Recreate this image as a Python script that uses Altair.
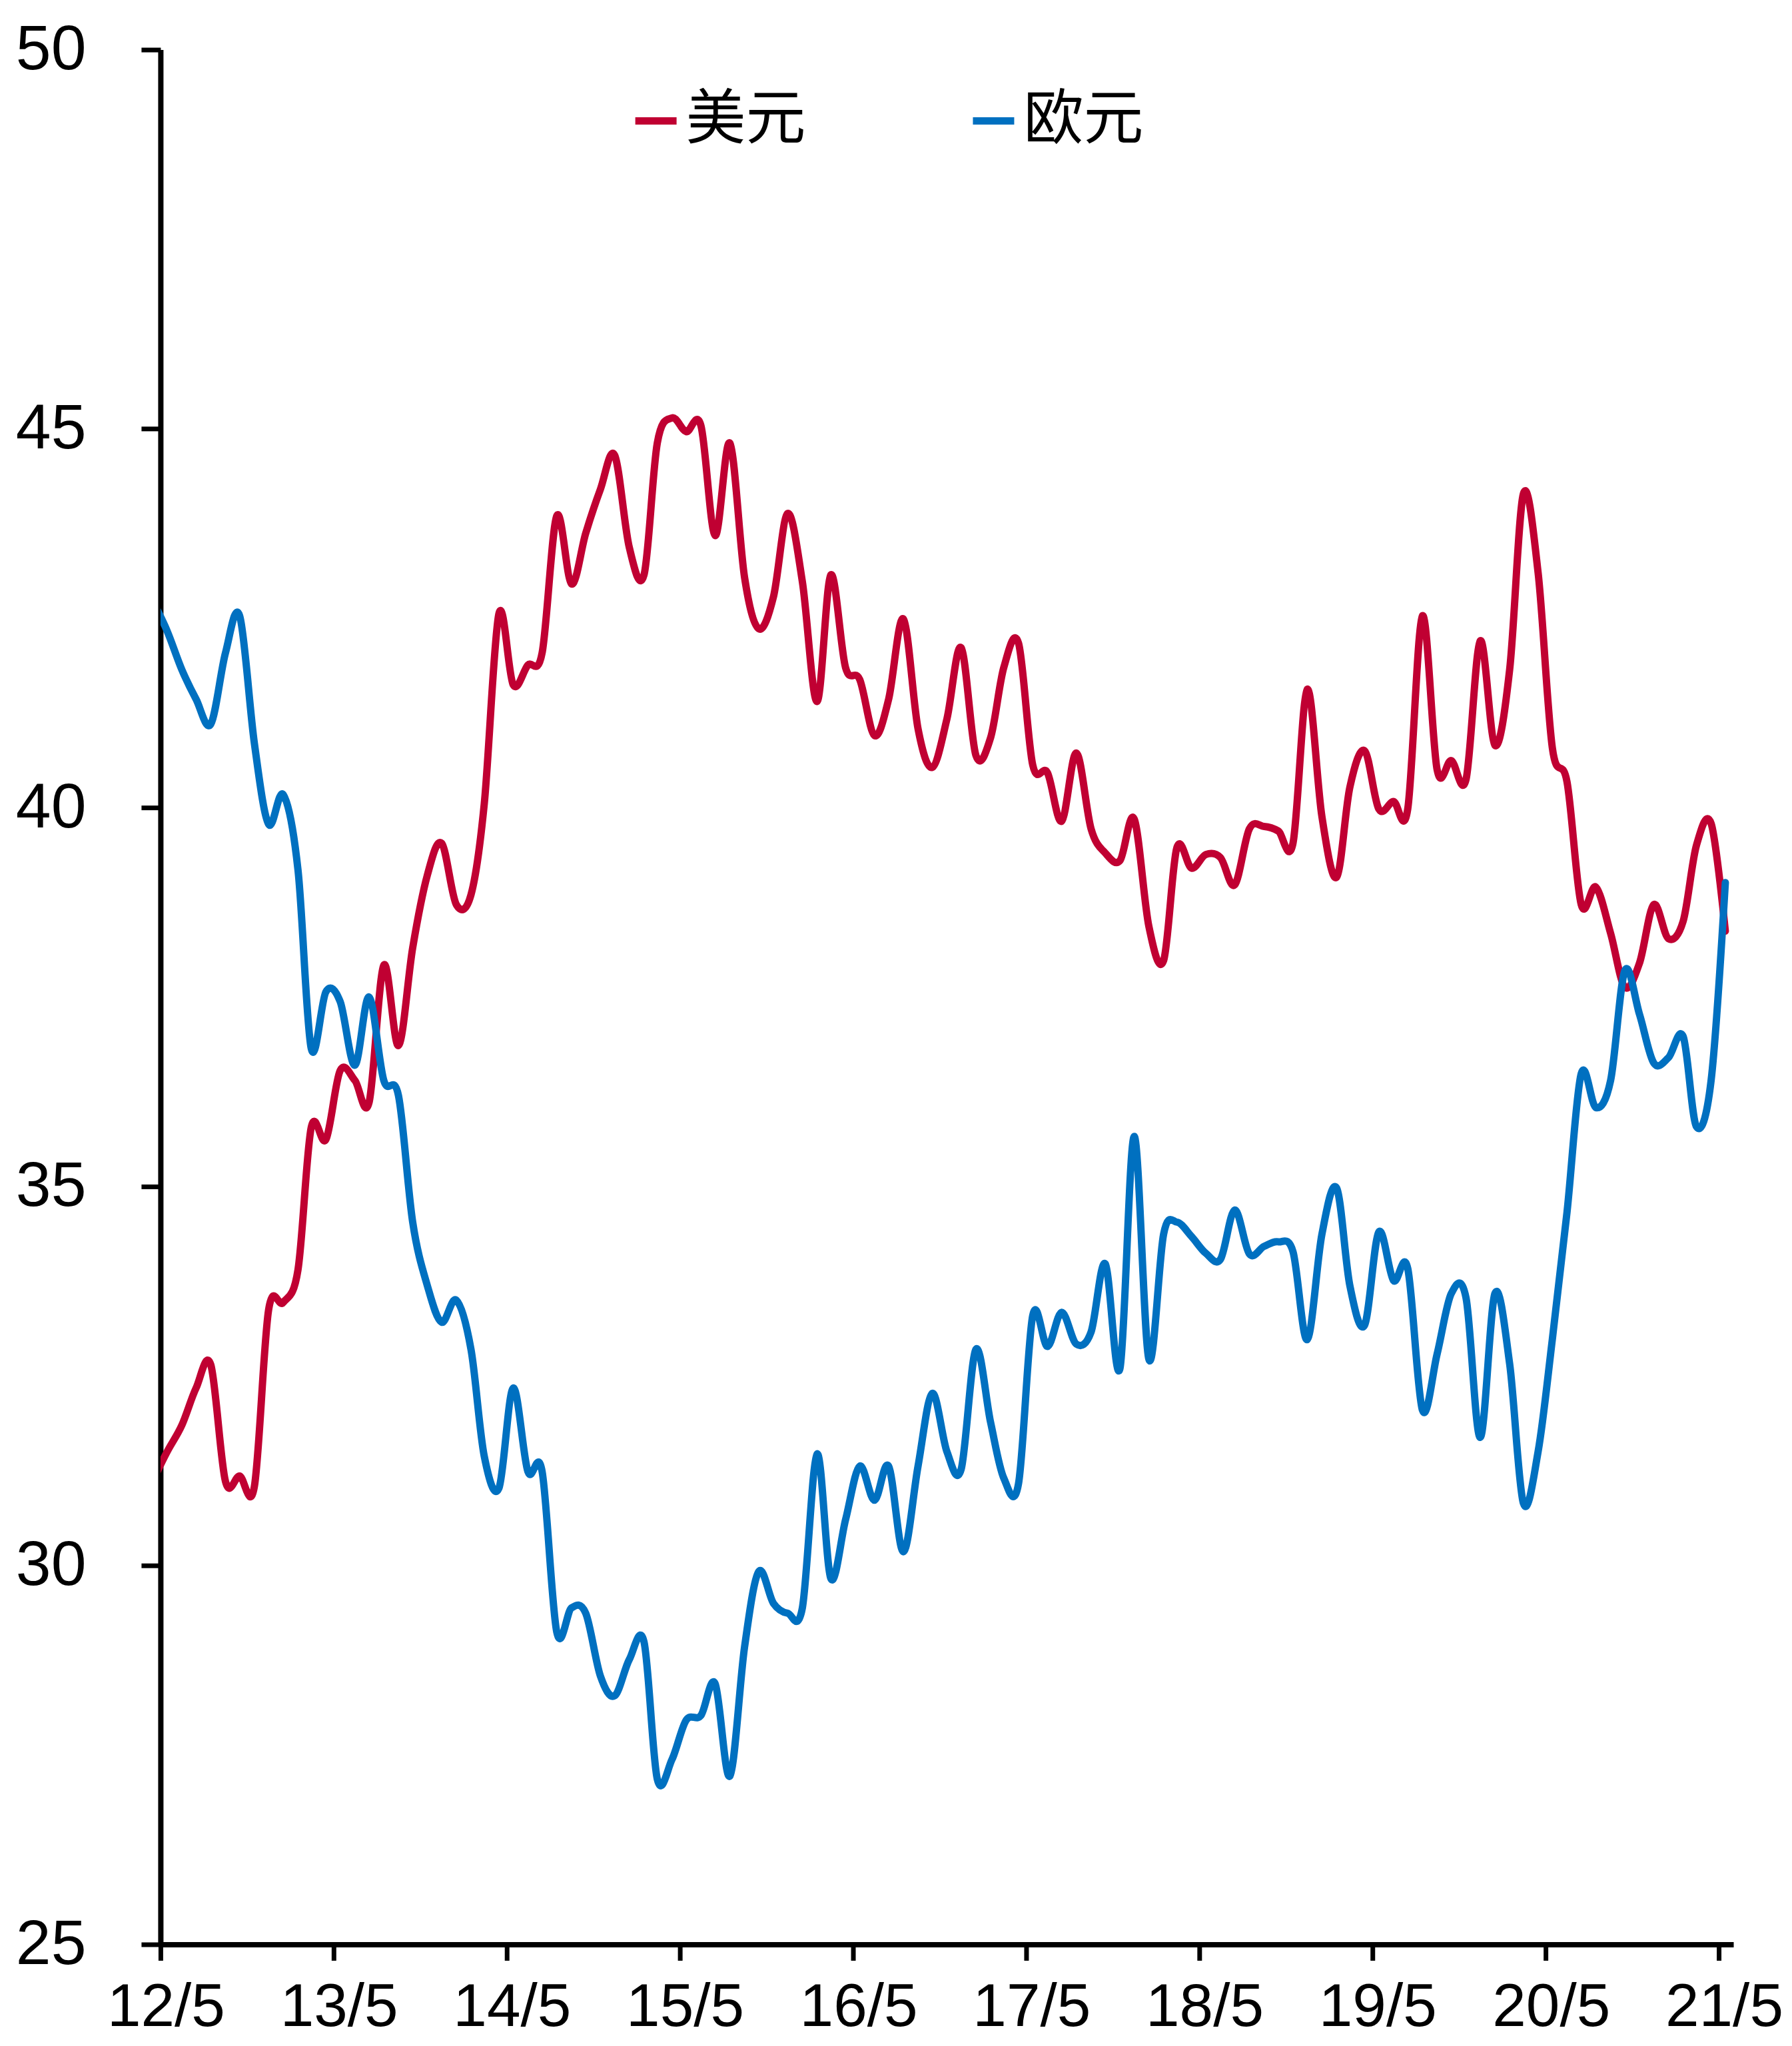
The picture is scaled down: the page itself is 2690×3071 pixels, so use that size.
import altair as alt
import pandas as pd

# month positions: first point is mid-April 2012 (clipped by the axis), then mid-month May 2012 .. May 2021
dates = ["2012-04-15"] + [d.strftime("%Y-%m-15") for d in pd.date_range("2012-05-01", "2021-05-01", freq="MS")]

usd = [31.12,
       31.50, 31.85, 32.34, 32.65, 31.11, 31.18, 31.04, 33.37, 33.47, 33.90,
       35.78, 35.62, 36.53, 36.40, 36.11, 37.92, 36.86, 38.15, 39.11, 39.53,
       38.72, 38.85, 40.05, 42.56, 41.62, 41.88, 42.04, 43.85, 42.95, 43.62,
       44.20, 44.65, 43.43, 43.07, 44.81, 45.14, 44.96, 45.04, 43.59, 44.81,
       43.04, 42.36, 42.78, 43.88, 42.98, 41.40, 43.07, 41.85, 41.69, 40.95,
       41.43, 42.49, 41.04, 40.53, 41.17, 42.11, 40.69, 40.92, 41.85, 42.17,
       40.56, 40.46, 39.82, 40.72, 39.72, 39.40, 39.30, 39.85, 38.43, 37.98,
       39.47, 39.20, 39.38, 39.34, 38.98, 39.72, 39.75, 39.69, 39.53, 41.56,
       39.88, 39.08, 40.27, 40.75, 39.98, 40.08, 39.98, 42.53, 40.50, 40.62,
       40.37, 42.20, 40.82, 41.82, 44.14, 43.10, 40.79, 40.34, 38.72, 38.95,
       38.34, 37.63, 37.95, 38.72, 38.27, 38.50, 39.50, 39.79, 38.37]

eur = [42.72,
       42.33, 41.82, 41.43, 41.10, 42.04, 42.53, 40.85, 39.78, 40.17, 39.18,
       36.82, 37.57, 37.44, 36.60, 37.50, 36.40, 36.20, 34.53, 33.69, 33.21,
       33.50, 32.85, 31.44, 31.02, 32.34, 31.24, 31.24, 29.12, 29.44, 29.37,
       28.54, 28.28, 28.76, 28.99, 27.18, 27.44, 27.96, 28.02, 28.44, 27.22,
       28.92, 29.92, 29.50, 29.37, 29.44, 31.47, 29.83, 30.60, 31.31, 30.86,
       31.31, 30.18, 31.31, 32.27, 31.50, 31.27, 32.85, 31.89, 31.15, 31.08,
       33.30, 32.89, 33.34, 32.92, 33.08, 33.98, 32.60, 35.66, 32.72, 34.37,
       34.53, 34.34, 34.12, 34.04, 34.69, 34.11, 34.21, 34.27, 34.14, 32.98,
       34.37, 34.98, 33.69, 33.17, 34.40, 33.76, 33.92, 32.05, 32.79, 33.59,
       33.53, 31.69, 33.59, 32.66, 30.82, 31.50, 32.98, 34.66, 36.49, 36.04,
       36.40, 37.85, 37.27, 36.63, 36.70, 36.98, 35.79, 36.40, 39.01]

series_names = ["美元", "欧元"]
series_colors = ["#C00032", "#0070C0"]
y_ticks = [25, 30, 35, 40, 45, 50]
x_ticks = [alt.DateTime(year=y, month=5, date=1, utc=True) for y in range(2012, 2022)]

df = pd.concat([
    pd.DataFrame({"date": dates, "value": usd, "series": series_names[0], "order": range(len(dates))}),
    pd.DataFrame({"date": dates, "value": eur, "series": series_names[1], "order": range(len(dates))}),
])

chart = alt.Chart(df).mark_line(
    interpolate="cardinal", strokeWidth=11, clip=True, strokeCap="round", strokeJoin="round"
).encode(
    x=alt.X("date:T",
            scale=alt.Scale(type="utc",
                            domain=[alt.DateTime(year=2012, month=5, date=1, utc=True),
                                    alt.DateTime(year=2021, month=6, date=1, utc=True)]),
            axis=alt.Axis(values=x_ticks, labelExpr="utcFormat(datum.value, '%y/%-m')",
                          tickSize=24, labelPadding=26, labelOffset=8, labelLimit=0,
                          labelAlign="center", labelOverlap=False, labelFlush=False,
                          labelFontSize=91, title=None)),
    y=alt.Y("value:Q",
            scale=alt.Scale(domain=[25, 50], nice=False, zero=False),
            axis=alt.Axis(values=y_ticks, tickSize=29, labelPadding=83, labelLimit=0, title=None)),
    color=alt.Color("series:N",
                    scale=alt.Scale(domain=series_names, range=series_colors),
                    legend=alt.Legend(title=None, orient="none", legendX=689, legendY=62,
                                      direction="horizontal", symbolType="stroke",
                                      symbolSize=3844, symbolStrokeWidth=11, symbolOffset=10,
                                      labelFont="Noto Sans CJK SC", labelFontSize=90,
                                      labelColor="black", labelOffset=0, columnPadding=227,
                                      labelLimit=0, padding=0)),
    order="order:Q",
).properties(
    width=2362, height=2845,
    autosize=alt.AutoSizeParams(type="none"),
    padding={"left": 233, "top": 66, "right": 80, "bottom": 150},
).configure_view(
    stroke=None
).configure_axis(
    grid=False, domainColor="black", domainWidth=8, tickColor="black", tickWidth=7,
    labelFont="Liberation Sans", labelFontSize=95, labelColor="black", labelLimit=0
)

chart.save("out.html", embed_options={"renderer": "svg", "actions": False})
